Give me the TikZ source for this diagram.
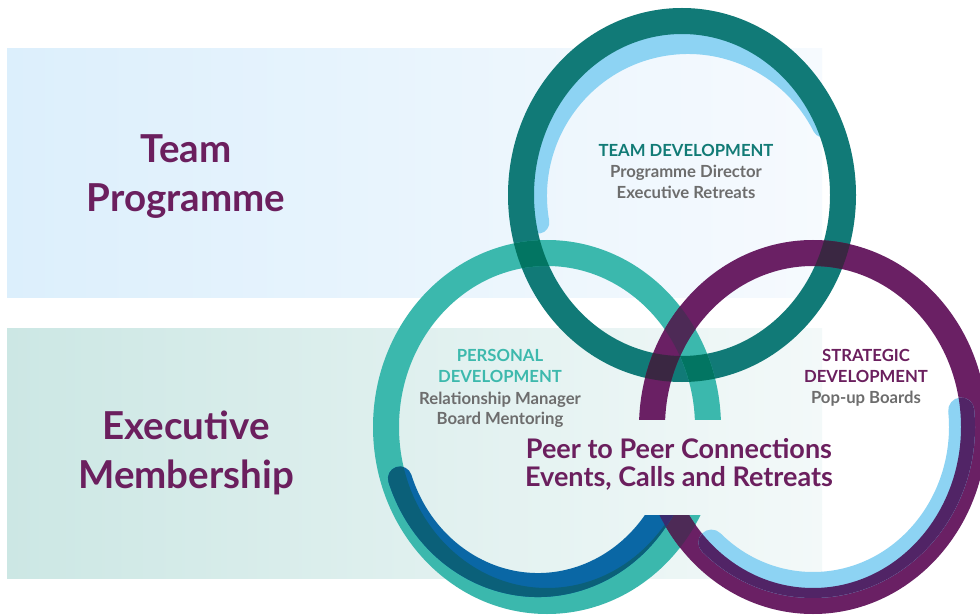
\documentclass[tikz,border=0pt]{standalone}
\usepackage{fontspec}
\setmainfont{Lato}
\definecolor{cT}{HTML}{117A77}
\definecolor{cL}{HTML}{3BB8AD}
\definecolor{cR}{HTML}{6A2064}
\definecolor{cLB}{HTML}{8DD3F3}
\definecolor{cDB}{HTML}{0A67A5}
\definecolor{cTL}{HTML}{027562}
\definecolor{cTR}{HTML}{3A2742}
\definecolor{cLR}{HTML}{4D2A56}
\definecolor{cTLR}{HTML}{34213C}
\definecolor{cDBL}{HTML}{0B6079}
\definecolor{cLBR}{HTML}{512466}
\definecolor{cDBR}{HTML}{3A2B6E}
\definecolor{cPurple}{HTML}{6B1F5E}
\definecolor{cGray}{HTML}{6D6D6D}
\definecolor{cTealTxt}{HTML}{127B76}
\definecolor{cLTealTxt}{HTML}{3DB9AD}
\definecolor{bandTopL}{HTML}{DCEFFC}
\definecolor{bandTopR}{HTML}{F6FAFE}
\definecolor{bandBotL}{HTML}{CCE7E4}
\definecolor{bandBotR}{HTML}{F3F9F9}
\begin{document}
\begin{tikzpicture}[x=1pt,y=1pt,
  ringline/.style={line width=26pt},
  arcline/.style={line width=24pt, line cap=round},
  title/.style={font=\bfseries\fontsize{38.5}{46}\selectfont, text=cPurple, anchor=base, inner sep=0pt},
  lab/.style={font=\bfseries\fontsize{16.7}{20}\selectfont, anchor=base, inner sep=0pt},
  peer/.style={font=\bfseries\fontsize{27}{28}\selectfont, text=cPurple, anchor=base, inner sep=0pt}]
\useasboundingbox (0,0) rectangle (980,614);
\fill[white] (0,0) rectangle (980,614);
% bands
\shade[left color=bandTopL, right color=bandTopR] (7,316) rectangle (822,565);
\shade[left color=bandBotL, right color=bandBotR] (7,36) rectangle (822,285);
% light blue arc under top ring
\coordinate (btc) at (688,418);
\draw[cLB, line width=22pt, line cap=round] (btc) ++(190:152pt and 153pt)
  arc[start angle=190, end angle=27, x radius=152pt, y radius=153pt];
% rings
\draw[ringline, cT] (682,419) ellipse [x radius=161pt, y radius=174pt];
\draw[ringline, cL] (547,187) ellipse [x radius=161pt, y radius=174pt];
\draw[ringline, cR] (813,187) ellipse [x radius=161pt, y radius=174pt];
% L and R overlap
\begin{scope}[even odd rule]
  \clip (547,187) ellipse [x radius=174pt, y radius=187pt]
        (547,187) ellipse [x radius=148pt, y radius=161pt];
  \draw[ringline, cLR] (813,187) ellipse [x radius=161pt, y radius=174pt];
\end{scope}
% T overlaps
\begin{scope}[even odd rule]
  \clip (682,419) ellipse [x radius=174pt, y radius=187pt]
        (682,419) ellipse [x radius=148pt, y radius=161pt];
  \draw[ringline, cTL] (547,187) ellipse [x radius=161pt, y radius=174pt];
  \draw[ringline, cTR] (813,187) ellipse [x radius=161pt, y radius=174pt];
  \clip (547,187) ellipse [x radius=174pt, y radius=187pt]
        (547,187) ellipse [x radius=148pt, y radius=161pt];
  \draw[ringline, cTLR] (813,187) ellipse [x radius=161pt, y radius=174pt];
\end{scope}
% dark blue arc in left ring
\draw[arcline, cDB] (538,187) ++(199:146pt and 158pt)
  arc[start angle=199, end angle=340, x radius=146pt, y radius=158pt];
\begin{scope}[even odd rule]
  \clip (547,187) ellipse [x radius=174pt, y radius=187pt]
        (547,187) ellipse [x radius=148pt, y radius=161pt];
  \draw[arcline, cDBL] (538,187) ++(199:146pt and 158pt)
    arc[start angle=199, end angle=340, x radius=146pt, y radius=158pt];
\end{scope}
\begin{scope}[even odd rule]
  \clip (813,187) ellipse [x radius=174pt, y radius=187pt]
        (813,187) ellipse [x radius=148pt, y radius=161pt];
  \draw[arcline, cDBR] (538,187) ++(199:146pt and 158pt)
    arc[start angle=199, end angle=340, x radius=146pt, y radius=158pt];
\end{scope}
% light blue arc in right ring
\draw[cLB, line width=26pt, line cap=round] (813,187) ++(227:149pt and 158pt)
  arc[start angle=227, end angle=366, x radius=149pt, y radius=158pt];
\begin{scope}[even odd rule]
  \clip (813,187) ellipse [x radius=174pt, y radius=187pt]
        (813,187) ellipse [x radius=148pt, y radius=161pt];
  \draw[cLBR, line width=26pt, line cap=round] (813,187) ++(227:149pt and 158pt)
    arc[start angle=227, end angle=366, x radius=149pt, y radius=158pt];
\end{scope}
% panel behind the central text
\begin{scope}
  \clip (520,100) rectangle (845,194);
  \fill[white] (520,100) rectangle (845,194);
  \shade[left color=bandBotL, right color=bandBotR] (7,36) rectangle (822,285);
\end{scope}
% left titles
\node[title] (tp1) at (186,451) {Team};
\node[title] (tp2) at (186,402) {Programme};
\node[title] (em1) at (186,175) {Executive};
\node[title] (em2) at (186,126) {Membership};
% top circle
\node[lab, text=cTealTxt] (td1) at (686,457) {TEAM DEVELOPMENT};
\node[lab, text=cGray] (td2) at (686,436) {Programme Director};
\node[lab, text=cGray] (td3) at (686,415) {Executive Retreats};
% left circle
\node[lab, text=cLTealTxt] (pd1) at (500,253) {PERSONAL};
\node[lab, text=cLTealTxt] (pd2) at (500,232) {DEVELOPMENT};
\node[lab, text=cGray] (pd3) at (500,210) {Relationship Manager};
\node[lab, text=cGray] (pd4) at (500,190) {Board Mentoring};
% right circle
\node[lab, text=cPurple] (sd1) at (866,253) {STRATEGIC};
\node[lab, text=cPurple] (sd2) at (866,232) {DEVELOPMENT};
\node[lab, text=cGray] (sd3) at (866,211) {Pop-up Boards};
% centre
\node[peer] (pp1) at (679,156) {Peer to Peer Connections};
\node[peer] (pp2) at (679,128) {Events, Calls and Retreats};
\end{tikzpicture}
\end{document}
